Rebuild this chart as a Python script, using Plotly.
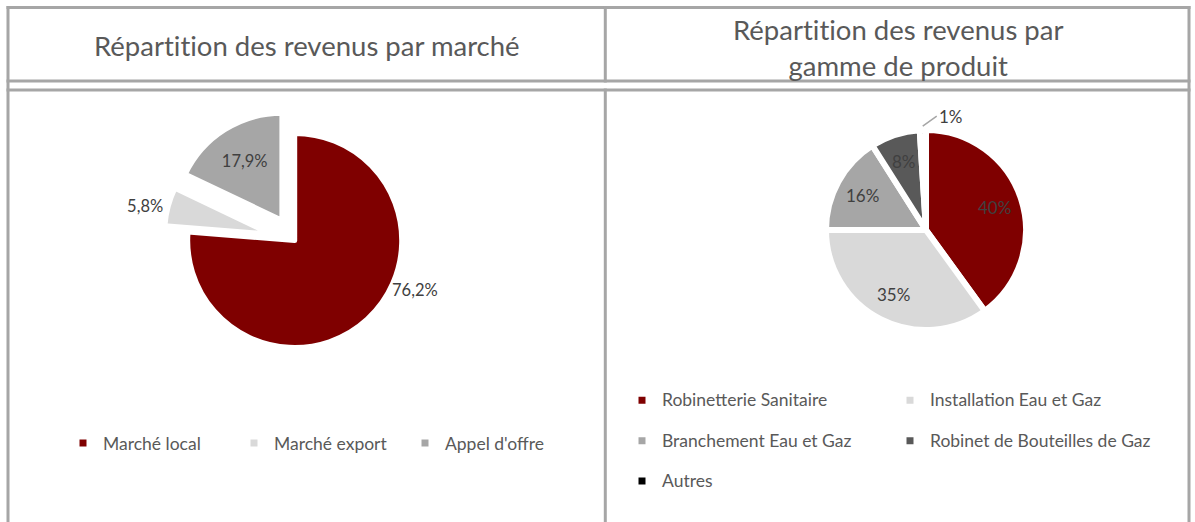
import math
import plotly.graph_objects as go

# ---------------- data ----------------
markets = ["Marché local", "Marché export", "Appel d'offre"]
market_share = [76.2, 5.8, 17.9]
market_colors = ["#7F0000", "#D9D9D9", "#A6A6A6"]
market_pull = [0, 0.224, 0.224]

products = ["Robinetterie Sanitaire", "Installation Eau et Gaz", "Branchement Eau et Gaz",
            "Robinet de Bouteilles de Gaz", "Autres"]
product_share = [40, 35, 16, 8, 1]
product_colors = ["#7F0000", "#D9D9D9", "#A6A6A6", "#595959", "#000000"]

title_left = "Répartition des revenus par marché"
title_right = "Répartition des revenus par<br>gamme de produit"

# ---------------- geometry helpers ----------------
W, H = 1195, 522
MR = 145
PW = W - MR
FONT = "Lato"
NOLIG = "font-variant-ligatures:none"


def fx(p):
    return p / PW


def fy(p):
    return 1 - p / H


# legend labels for the 2-column legend (bigger row spacing, smaller visible text)
product_legend = [
    f'<span style="font-size:17.5px;baseline-shift:5.5px">{p}</span>' for p in products
]

fig = go.Figure()

# left pie
L_CX, L_CY, L_R = 294.7, 240.5, 107
L_HALF = L_R * (1 + max(market_pull))
fig.add_trace(go.Pie(
    labels=markets, values=market_share, sort=False, direction="clockwise", rotation=0,
    marker=dict(colors=market_colors, line=dict(color="white", width=5)),
    pull=market_pull,
    textposition=["none", "outside", "inside"],
    texttemplate="%{value:.1f}%",
    textfont=dict(family=FONT, size=16.5, color="#404040"),
    insidetextorientation="horizontal",
    domain=dict(x=[fx(L_CX - L_HALF), fx(L_CX + L_HALF)],
                y=[fy(L_CY + L_HALF), fy(L_CY - L_HALF)]),
    legend="legend",
))

# right pie
R_CX, R_CY, R_R = 926, 230, 100
fig.add_trace(go.Pie(
    labels=product_legend, values=product_share, sort=False, direction="clockwise", rotation=0,
    marker=dict(colors=product_colors, line=dict(color="white", width=6)),
    textposition="none",
    domain=dict(x=[fx(R_CX - R_R), fx(R_CX + R_R)], y=[fy(R_CY + R_R), fy(R_CY - R_R)]),
    legend="legend2",
))

line_col = "#A6A6A6"
shapes = []


def hline(x0, x1, y):
    shapes.append(dict(type="line", xref="paper", yref="paper", x0=fx(x0), x1=fx(x1),
                       y0=fy(y), y1=fy(y), line=dict(color=line_col, width=3)))


def vline(x, y0, y1):
    shapes.append(dict(type="line", xref="paper", yref="paper", x0=fx(x), x1=fx(x),
                       y0=fy(y0), y1=fy(y1), line=dict(color=line_col, width=3)))


hline(6.5, 1190.5, 7.5)
hline(6.5, 1190.5, 81)
hline(6.5, 1190.5, 90)
vline(8, 6, 530)
vline(1189, 6, 530)
vline(605.3, 6, 82.5)
vline(605.3, 88.5, 530)

annotations = [
    dict(text=f'<span style="{NOLIG}">{title_left}</span>', xref="paper", yref="paper",
         x=fx(307), y=fy(46), xanchor="center", yanchor="middle", showarrow=False,
         font=dict(family=FONT, size=27.5, color="#595959")),
    dict(text=f'<span style="{NOLIG}">' + title_right.replace("<br>", f'</span><br><span style="{NOLIG}">') + "</span>",
         xref="paper", yref="paper", x=fx(897.5), y=fy(47.5),
         xanchor="center", yanchor="middle", showarrow=False,
         font=dict(family=FONT, size=27.5, color="#595959")),
    dict(text=f"{market_share[0]:.1f}".replace(".", ",") + "%", xref="paper", yref="paper",
         x=fx(415), y=fy(290), xanchor="center", yanchor="middle", showarrow=False,
         font=dict(family=FONT, size=16.5, color="#404040")),
]

# right pie data labels, placed along each slice's mid angle
total = sum(product_share)
cum = 0
for i, v in enumerate(product_share):
    mid = (cum + v / 2) / total * 2 * math.pi
    cum += v
    txt = f"{v:.0f}%"
    if i < len(product_share) - 1:
        rr = 0.72 * R_R
        annotations.append(dict(
            text=txt, xref="paper", yref="paper",
            x=fx(R_CX + rr * math.sin(mid)), y=fy(R_CY - rr * math.cos(mid)),
            xanchor="center", yanchor="middle", showarrow=False,
            font=dict(family=FONT, size=17, color="#404040")))
    else:
        tipx = R_CX + (R_R + 4) * math.sin(mid)
        tipy = R_CY - (R_R + 4) * math.cos(mid)
        annotations.append(dict(
            text=txt, xref="paper", yref="paper",
            x=fx(tipx), y=fy(tipy), ax=14, ay=-10, axref="pixel", ayref="pixel",
            xanchor="left", yanchor="middle",
            showarrow=True, arrowhead=0, arrowwidth=1.5, arrowcolor="#A6A6A6", standoff=0,
            font=dict(family=FONT, size=17, color="#404040")))

fig.update_layout(
    width=W, height=H,
    margin=dict(l=0, r=MR, t=0, b=0, pad=0, autoexpand=False),
    paper_bgcolor="white", plot_bgcolor="white",
    separators=", ",
    shapes=shapes,
    annotations=annotations,
    legend=dict(orientation="h", x=fx(63), xanchor="left", y=fy(443), yanchor="middle",
                entrywidth=126, font=dict(family=FONT, size=17.5, color="#595959"),
                bgcolor="rgba(0,0,0,0)", traceorder="normal"),
    legend2=dict(orientation="h", x=fx(1158), xanchor="right", y=fy(441), yanchor="middle",
                 entrywidth=223, font=dict(family=FONT, size=28.8, color="#595959"),
                 bgcolor="rgba(0,0,0,0)", traceorder="normal"),
)

fig.write_html("out.html", config={"displayModeBar": False},
               post_script="document.body.style.margin='0';document.body.style.overflow='hidden';")
